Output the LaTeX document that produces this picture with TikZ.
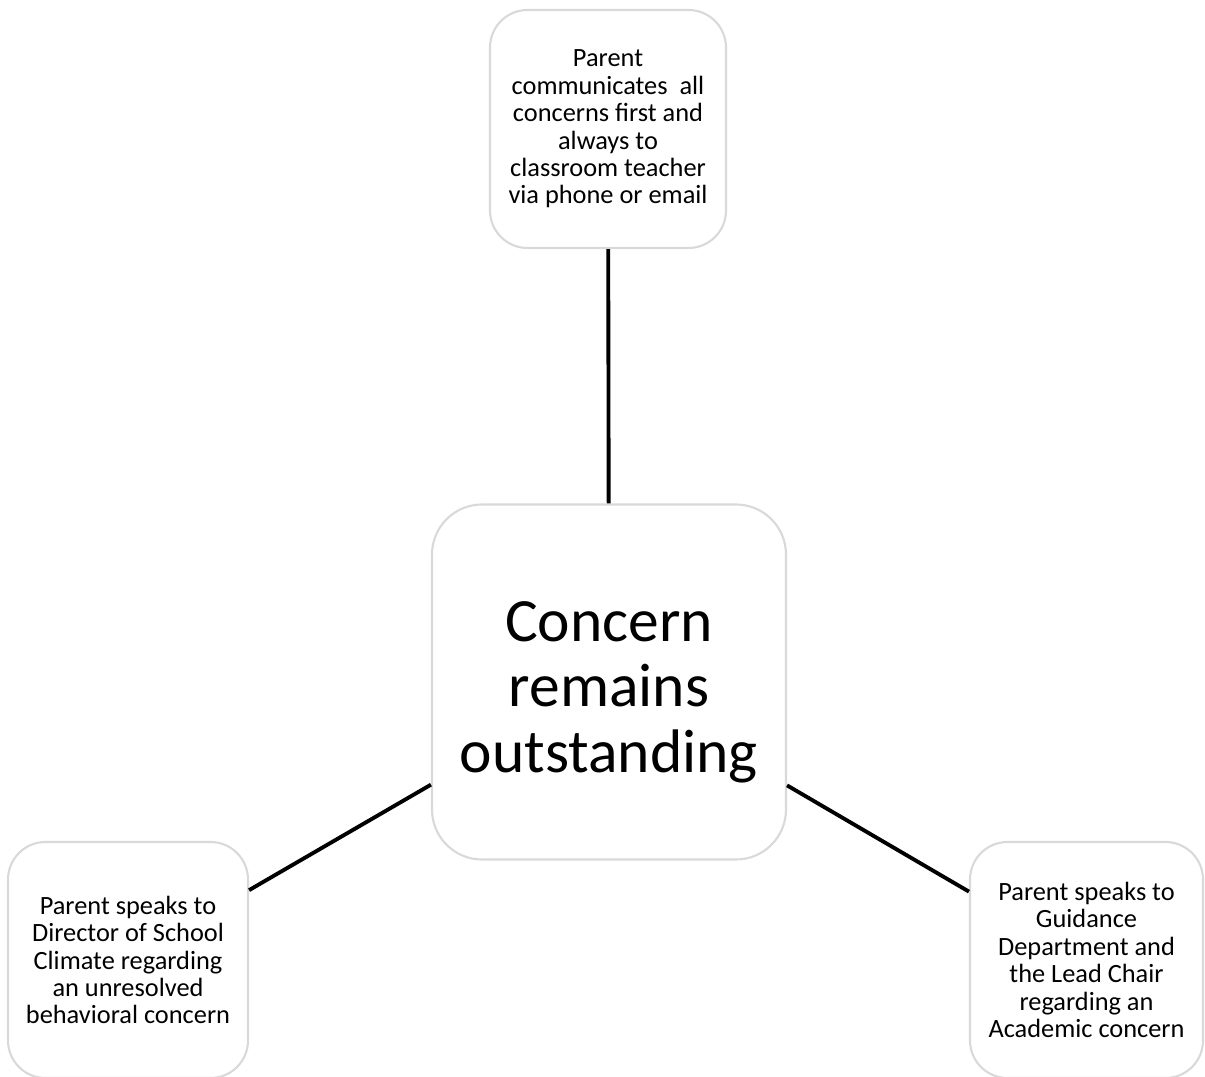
\documentclass[tikz,border=0pt]{standalone}
\usepackage{fontspec}
\setmainfont{Carlito}
\usetikzlibrary{calc}

\begin{document}
\begin{tikzpicture}[box/.style={draw=black!15, line width=1.2pt, fill=white, rounded corners=0.75cm, align=center, inner sep=0pt, font=\fontsize{15}{15.6}\selectfont},
    link/.style={line width=2.2pt, black}]

\useasboundingbox (0,0) rectangle (24.1,21.52);

\node[box, minimum width=4.72cm, minimum height=4.76cm] (teacher) at (12.16,18.94) {Parent\\communicates~ all\\concerns first and\\always to\\classroom teacher\\via phone or email};
\node[box, minimum width=7.08cm, minimum height=7.1cm, rounded corners=1cm, font=\fontsize{35}{37.3}\selectfont] (concern) at (12.18,7.88) {\rule{0pt}{1.2cm}Concern\\remains\\outstanding};
\node[box, minimum width=4.8cm, minimum height=4.72cm] (climate) at (2.56,2.32) {Parent speaks to\\Director of School\\Climate regarding\\an unresolved\\behavioral concern};
\node[box, minimum width=4.66cm, minimum height=4.72cm] (guidance) at (21.73,2.32) {Parent speaks to\\Guidance\\Department and\\the Lead Chair\\regarding an\\Academic concern};

\draw[link] (concern) -- (teacher);
\draw[link] (concern) -- (climate);
\draw[link] (concern) -- (guidance);

\end{tikzpicture}
\end{document}
